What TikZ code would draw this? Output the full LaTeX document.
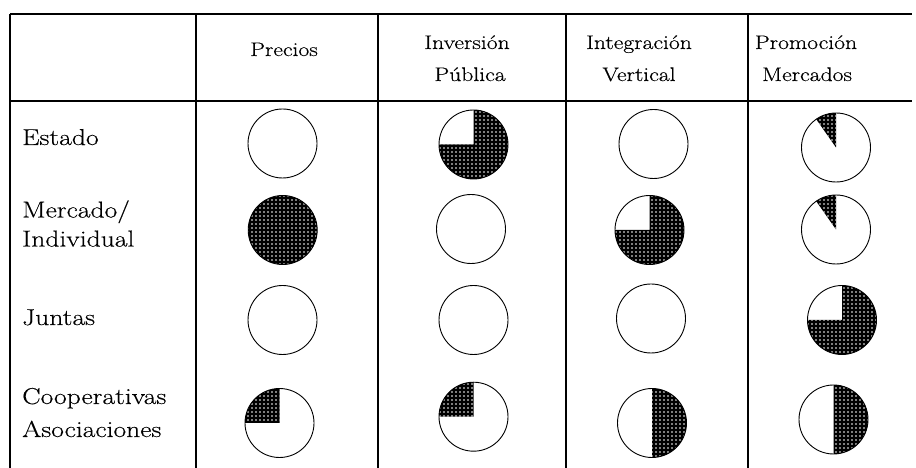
\documentclass[tikz,border=0pt]{standalone}
\usepackage{fontspec}
\setmainfont{Latin Modern Roman}[FakeStretch=1.2, FakeBold=0.4]
\usetikzlibrary{patterns}
\pgfdeclarepatternformonly{wdots}{\pgfqpoint{-1pt}{-1pt}}{\pgfqpoint{1pt}{1pt}}{\pgfqpoint{4pt}{4pt}}{%
  \pgfpathcircle{\pgfqpoint{0pt}{0pt}}{0.95pt}%
  \pgfusepath{fill}}
\newcommand\Rd{34.5pt}
\tikzset{
  rule/.style={line width=1.4pt},
  rim/.style={line width=0.9pt},
  dotfill/.style={fill=black, postaction={pattern=wdots, pattern color=white}},
  hdr/.style={anchor=base, inner sep=0pt, font=\fontsize{19.7}{24}\selectfont},
  lbl/.style={anchor=base west, inner sep=0pt, font=\fontsize{23}{27}\selectfont},
  pics/emptydisc/.style={code={\draw[rim] (0,0) circle[radius=\Rd];}},
  pics/sector/.style 2 args={code={%
    \fill[dotfill] (0,0) -- (#1:\Rd) arc[start angle=#1, end angle=#2, radius=\Rd] -- cycle;
    \draw[rim] (0,0) circle[radius=\Rd];}},
  pics/fulldisc/.style={code={%
    \fill[dotfill] (0,0) circle[radius=\Rd];
    \draw[rim] (0,0) circle[radius=\Rd];}}
}
\begin{document}
\begin{tikzpicture}[x=1pt,y=1pt]
\useasboundingbox (0,0) rectangle (916,468);
% table rules
\coordinate (tl) at (10,454);
\coordinate (tr) at (912,454);
\coordinate (hl) at (10,367);
\coordinate (hr) at (912,367);
\draw[rule] (tl) -- (tr);
\draw[rule] (hl) -- (hr);
\foreach \x/\n in {10/a,196/b,378/c,566/d,748/e}{
  \coordinate (v\n t) at (\x,454);
  \coordinate (v\n b) at (\x,0);
  \draw[rule] (v\n t) -- (v\n b);
}
% headers
\node[hdr] (h1) at (284,412) {Precios};
\node[hdr] (h2a) at (467,419) {Inversión};
\node[hdr] (h2b) at (470,387) {Pública};
\node[hdr] (h3a) at (639,419) {Integración};
\node[hdr] (h3b) at (639,387) {Vertical};
\node[hdr] (h4a) at (806,419) {Promoción};
\node[hdr] (h4b) at (807,387) {Mercados};
% row labels
\node[lbl] (r1) at (22,323) {Estado};
\node[lbl] (r2a) at (22,250.5) {Mercado/};
\node[lbl] (r2b) at (22,221.5) {Individual};
\node[lbl] (r3) at (22,143) {Juntas};
\node[lbl] (r4a) at (22,64) {Cooperativas};
\node[lbl] (r4b) at (22,31) {Asociaciones};
% row 1: Estado
\pic at (282.5,324.5) {emptydisc};
\pic at (473.5,323.5) {sector={180}{450}};
\pic at (653.5,324) {emptydisc};
\pic at (836,320.5) {sector={90}{125}};
% row 2: Mercado/Individual
\pic at (282.7,238) {fulldisc};
\pic at (471,239) {emptydisc};
\pic at (649.5,238) {sector={180}{450}};
\pic at (836,238.5) {sector={90}{125}};
% row 3: Juntas
\pic at (282.5,148) {emptydisc};
\pic at (473.5,148) {emptydisc};
\pic at (651,149.5) {emptydisc};
\pic at (842,148) {sector={180}{450}};
% row 4: Cooperativas Asociaciones
\pic at (279.5,45) {sector={90}{180}};
\pic at (473.5,51.3) {sector={90}{180}};
\pic at (652,45) {sector={-90}{90}};
\pic at (833.5,48.5) {sector={-90}{90}};
\end{tikzpicture}
\end{document}
